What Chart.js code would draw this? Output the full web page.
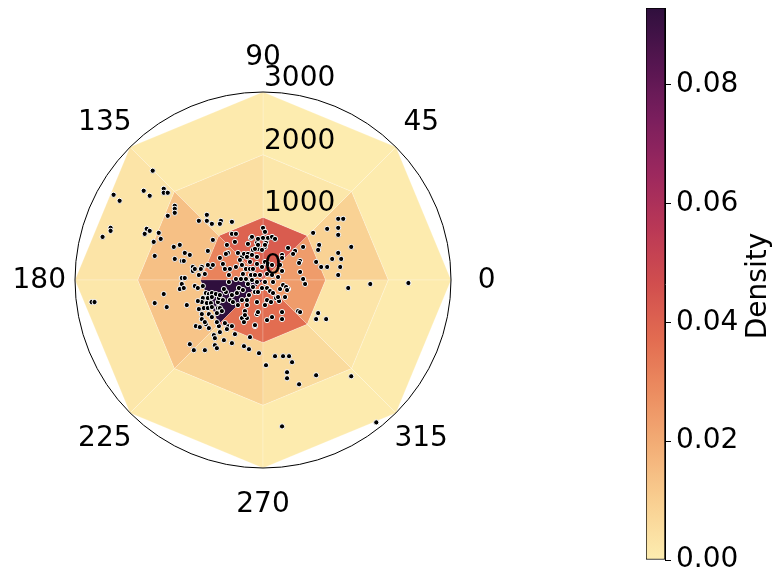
<!DOCTYPE html>
<html>
<head>
<meta charset="utf-8">
<script src="https://cdn.jsdelivr.net/npm/chart.js@4.4.1/dist/chart.umd.min.js"></script>
<style>
  html, body { margin: 0; padding: 0; background: #ffffff; }
  #wrap { position: relative; width: 774px; height: 572px; }
  #wrap canvas { position: absolute; left: 0; top: 0; }
</style>
</head>
<body>
<div id="wrap">
  <canvas id="polar" width="774" height="572"></canvas>
  <canvas id="cbar" width="774" height="572"></canvas>
</div>
<script>
// Histogram bin edges (degrees, metres)
const angleEdges = [0, 45, 90, 135, 180, 225, 270, 315, 360];
const radiusEdges = [0, 1000, 2000, 3000];

// Density per angular sector (0-45, 45-90, ... 315-360) for each radial ring
const densityInner  = [0.024, 0.042, 0.040, 0.031, 0.0929, 0.036, 0.037, 0.024];
const densityMiddle = [0.009, 0.002, 0.0045, 0.014, 0.013, 0.009, 0.006, 0.0025];
const densityOuter  = [0.0008, 0.0003, 0.001, 0.003, 0.002, 0.001, 0.0008, 0.0008];

// Axis ticks
const angleTicks = [0, 45, 90, 135, 180, 225, 270, 315];
const radiusTicks = [0, 1000, 2000, 3000];
const densityTicks = [0, 0.02, 0.04, 0.06, 0.08];
const densityMax = 0.0929;

// Observations as [east, north] offsets in metres
const samples = [
  [-1760,1744],[-2384,1360],[-2288,1264],[-1904,1424],[-1808,1344],[-1584,1456],[-1584,1392],[-1520,1392],[-1408,1184],[-1408,1136],
  [-1408,1072],[-1520,1024],[-1024,944],[-2432,832],[-2432,784],[-2560,688],[-1856,816],[-1808,784],[-1888,736],[-1664,752],
  [-1632,656],[-1744,608],[-1424,528],[-1328,560],[-1248,432],[-1168,400],[-1728,384],[-1408,336],[-2736,-352],[-2688,-352],
  [-1296,304],[-1264,304],[-1120,208],[-1120,144],[-976,208],[-832,208],[-1296,32],[-1248,32],[-1296,-64],[-1328,-144],
  [-1264,-128],[-1088,-96],[-1040,-128],[-960,-96],[-912,-208],[-864,-224],[-816,-208],[-752,-224],[-960,-288],[-880,-288],
  [-816,-272],[-976,-352],[-896,-368],[-832,-368],[-720,-352],[-944,-448],[-880,-448],[-816,-432],[-720,-448],[-1024,-464],
  [-976,-544],[-864,-544],[-816,-592],[-736,-528],[-1072,-736],[-1008,-752],[-912,-704],[-864,-768],[-704,-736],[-1584,-224],
  [-1728,-368],[-1536,-432],[-1216,-400],[-1040,-336],[-976,-624],[-928,-672],[-736,-672],[-704,-288],
  [-640,-320],[-592,-192],[-624,-144],[-688,-448],[-656,-496],[-528,-320],[-480,-352],[-496,-240],[-416,-208],[-384,-128],
  [-320,-160],[-336,-320],[-256,-320],[-224,-240],[-160,-112],[-128,-192],[-80,-192],[-16,-128],[64,-128],[112,-176],
  [160,-208],[64,-320],[128,-352],[208,-288],[256,-336],[352,-272],[400,-144],[272,-144],[-288,-496],[-336,-608],
  [-256,-608],[-304,-672],[-96,-544],[64,-640],[144,-592],[304,-624],[560,-496],[-560,-736],[-448,-864],
  [-784,-880],[-688,-832],[-576,-784],[-496,-736],[-768,-928],[-624,-960],[-496,-1008],[-304,-1056],[-224,-1104],[-1168,-1024],
  [-1104,-1120],[-928,-1120],[-768,-1040],[-736,-1088],
  [-128,-736],[-208,-912],[-64,-1168],[192,-1216],[320,-1216],[416,-1216],[464,-1312],[48,-1360],[384,-1472],[384,-1568],
  [576,-1664],[848,-1520],[1408,-1536],[304,-2336],[1808,-2272],
  [1360,-128],[1712,-64],[2320,-48],[880,-528],[848,-624],[1008,-624],[592,-512],
  [1200,976],[1280,976],[1024,816],[800,752],[1200,832],[1200,720],[896,560],[880,480],[640,528],[1408,528],
  [1200,432],[1104,336],[1248,336],[592,304],[848,288],[928,208],[1024,208],[1232,208],[592,128],[1200,80],[640,16],
  [-896,1040],[-896,944],[-816,896],[-672,944],[-688,896],[-496,928],[-800,640],[-496,736],[-432,736],[-576,560],
  [-880,464],[-688,352],[-560,432],[-400,432],[-336,368],[-304,416],[-240,416],[-240,576],[-192,672],[-160,480],
  [-80,496],[-96,592],[0,832],[32,768],[0,672],[80,672],[48,592],[144,688],[192,656],[32,528],
  [400,512],[512,464],[304,400],[304,352],
  [-448,608],[-592,416],[-640,256],[-800,240],[-880,240],[-992,176],[-1088,176],[-1024,80],[-928,96],[-608,176],
  [-528,176],[-544,80],[-432,208],[-368,320],[-336,240],[-272,176],[-320,96],[-208,176],[-208,288],[-256,368],
  [-432,16],[-352,16],[-272,16],[-544,-32],[-192,80],[-240,-64],
  [-176,688],[-80,656],[-80,560],[32,560],[-128,496],[-16,480],[-176,400],[-96,368],[480,416],[32,288],
  [80,256],[144,240],[-96,256],[-16,208],[-160,176],[272,240],[576,272],[304,144],[240,48],[144,80],
  [64,96],[-48,80],[-128,80],[-176,0],[-96,-32],[32,-32],[160,-32],[320,-80],[672,-64],
  [368,-112],[384,-160],[304,-512],[-128,-720],[-608,-688],[-688,-240],[-288,-560],[-80,-512],[-400,-400],[-256,-400],
  [-96,-352],[32,-400],[240,-272]
];

// Sequential colormap, light yellow -> orange -> red -> magenta -> dark purple
const cmapStops = [
  [253,237,176],[249,209,147],[243,176,120],[236,142,97],[226,108,81],[209,78,78],
  [186,56,86],[156,40,94],[122,30,93],[85,21,80],[47,15,61]
];
function cmap(t) {
  t = Math.max(0, Math.min(1, t));
  const p = t * (cmapStops.length - 1);
  const i = Math.min(Math.floor(p), cmapStops.length - 2);
  const f = p - i;
  const a = cmapStops[i], b = cmapStops[i + 1];
  const c = a.map((v, n) => Math.round(v + (b[n] - v) * f));
  return `rgb(${c[0]},${c[1]},${c[2]})`;
}

const FONT = "'DejaVu Sans', 'Liberation Sans', sans-serif";
const rMax = radiusEdges[radiusEdges.length - 1];

// Draws the polar histogram mesh, the outer spine and the polar tick labels
const polarMesh = {
  id: 'polarMesh',
  beforeDatasetsDraw(chart) {
    const { ctx, scales: { x, y } } = chart;
    const toPx = (deg, r) => {
      const a = deg * Math.PI / 180;
      return [x.getPixelForValue(r * Math.cos(a)), y.getPixelForValue(r * Math.sin(a))];
    };
    const rings = [densityInner, densityMiddle, densityOuter];
    ctx.save();
    rings.forEach((row, j) => {
      row.forEach((v, k) => {
        const a0 = angleEdges[k], a1 = angleEdges[k + 1];
        const r0 = radiusEdges[j], r1 = radiusEdges[j + 1];
        const pts = [toPx(a0, r0), toPx(a1, r0), toPx(a1, r1), toPx(a0, r1)];
        ctx.beginPath();
        ctx.moveTo(pts[0][0], pts[0][1]);
        for (let n = 1; n < pts.length; n++) ctx.lineTo(pts[n][0], pts[n][1]);
        ctx.closePath();
        ctx.fillStyle = cmap(v / densityMax);
        ctx.fill();
        ctx.strokeStyle = 'rgba(255,255,255,0.35)';
        ctx.lineWidth = 0.6;
        ctx.stroke();
      });
    });
    ctx.restore();
  },
  afterDraw(chart) {
    const { ctx, scales: { x, y } } = chart;
    const cx = x.getPixelForValue(0), cy = y.getPixelForValue(0);
    const R = x.getPixelForValue(rMax) - cx;
    ctx.save();
    // outer spine
    ctx.beginPath();
    ctx.arc(cx, cy, R, 0, Math.PI * 2);
    ctx.strokeStyle = '#000';
    ctx.lineWidth = 1;
    ctx.stroke();
    ctx.fillStyle = '#000';
    ctx.font = `28px ${FONT}`;
    // angular tick labels
    ctx.textAlign = 'center';
    ctx.textBaseline = 'middle';
    const rl = rMax * 1.19;
    angleTicks.forEach(deg => {
      const a = deg * Math.PI / 180;
      ctx.fillText(String(deg), x.getPixelForValue(rl * Math.cos(a)), y.getPixelForValue(rl * Math.sin(a)) + 1);
    });
    // radial tick labels along 90 degrees
    ctx.textAlign = 'left';
    ctx.textBaseline = 'alphabetic';
    radiusTicks.forEach(r => {
      ctx.fillText(String(r), cx + 1, y.getPixelForValue(r) - 6);
    });
    ctx.restore();
  }
};

new Chart(document.getElementById('polar'), {
  type: 'scatter',
  data: {
    datasets: [{
      data: samples.map(p => ({ x: p[0], y: p[1] })),
      backgroundColor: '#000000',
      borderColor: '#ffffff',
      borderWidth: 1,
      pointRadius: 2.6,
      pointHoverRadius: 2.6
    }]
  },
  options: {
    responsive: false,
    animation: false,
    events: [],
    layout: { padding: { left: 75, right: 323, top: 92, bottom: 104 } },
    plugins: { legend: { display: false }, tooltip: { enabled: false } },
    scales: {
      x: { type: 'linear', min: -rMax, max: rMax, display: false },
      y: { type: 'linear', min: -rMax, max: rMax, display: false }
    }
  },
  plugins: [polarMesh]
});

// Colour bar label
const densityLabel = {
  id: 'densityLabel',
  afterDraw(chart) {
    const { ctx, chartArea } = chart;
    ctx.save();
    ctx.translate(759, (chartArea.top + chartArea.bottom) / 2 + 2);
    ctx.rotate(-Math.PI / 2);
    ctx.fillStyle = '#000';
    ctx.font = `28px ${FONT}`;
    ctx.textAlign = 'center';
    ctx.textBaseline = 'middle';
    ctx.fillText('Density', 0, 0);
    ctx.restore();
  }
};

new Chart(document.getElementById('cbar'), {
  type: 'bar',
  data: {
    labels: ['Density'],
    datasets: [{
      data: [[0, densityMax]],
      backgroundColor: (c) => {
        const ch = c.chart;
        const ys = ch.scales && ch.scales.y;
        if (!ch.chartArea || !ys) return cmap(0.5);
        const g = ch.ctx.createLinearGradient(0, ys.getPixelForValue(0), 0, ys.getPixelForValue(densityMax));
        for (let i = 0; i <= 40; i++) g.addColorStop(i / 40, cmap(i / 40));
        return g;
      },
      borderColor: '#000000',
      borderWidth: 1,
      borderSkipped: false,
      barPercentage: 1,
      categoryPercentage: 1
    }]
  },
  options: {
    responsive: false,
    animation: false,
    events: [],
    layout: { padding: { left: 646, right: 0, top: 8, bottom: 12 } },
    plugins: { legend: { display: false }, tooltip: { enabled: false } },
    scales: {
      x: { display: false },
      y: {
        position: 'right',
        min: 0,
        max: densityMax,
        afterBuildTicks: s => { s.ticks = densityTicks.map(v => ({ value: v })); },
        afterFit: s => { s.width = 109; s.paddingTop = 0; s.paddingBottom = 0; },
        ticks: {
          color: '#000',
          font: { family: FONT, size: 28 },
          padding: 5,
          callback: v => Number(v).toFixed(2)
        },
        grid: { drawOnChartArea: false, drawTicks: true, tickLength: 6, tickColor: '#000', tickWidth: 1 },
        border: { display: true, color: '#000', width: 1 }
      }
    }
  },
  plugins: [densityLabel]
});
</script>
</body>
</html>
